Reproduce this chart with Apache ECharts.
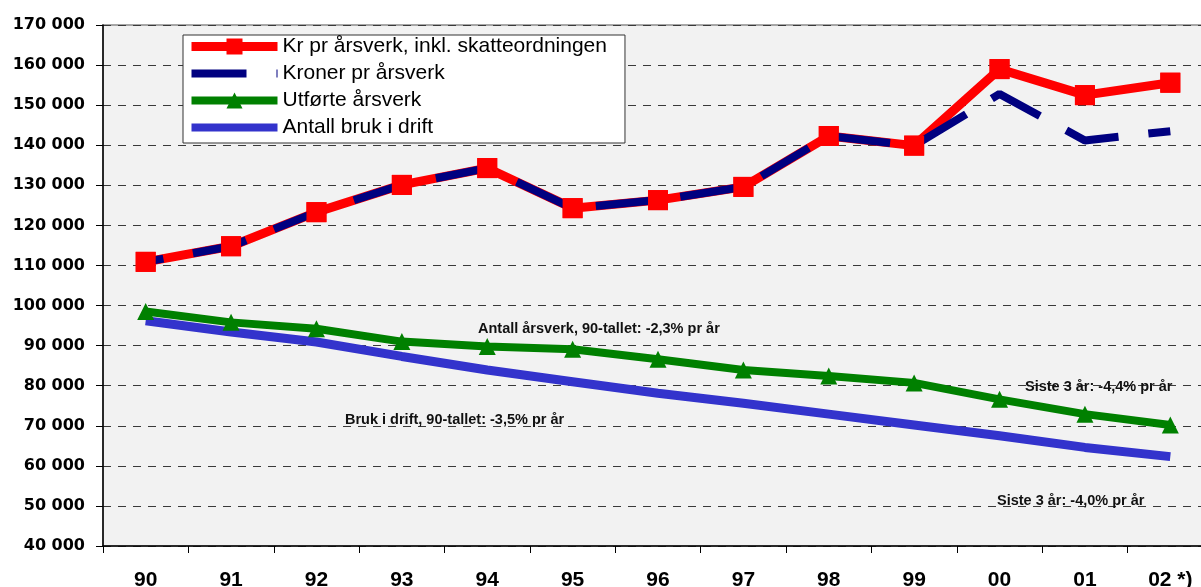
<!DOCTYPE html>
<html>
<head>
<meta charset="utf-8">
<script src="https://cdn.jsdelivr.net/npm/echarts@6/dist/echarts.min.js"></script>
<style>
html,body{margin:0;padding:0;background:#fff;overflow:hidden;}
#c{width:1213px;height:587px;}
</style>
</head>
<body>
<div id="c"></div>
<script>
const categories = ['90','91','92','93','94','95','96','97','98','99','00','01','02 *)'];
const krInklSkatt = [110900,114800,123300,130100,134300,124300,126300,129600,142300,139900,159000,152500,155600];
const kronerPrArsverk = [110900,114800,123300,130100,134300,124300,126300,129600,142300,139900,152800,141200,143500];
const utforteArsverk = [98500,95800,94200,91000,89800,89100,86600,83900,82400,80700,76600,72900,70200];
const antallBruk = [96200,93400,90900,87300,83900,81000,78100,75600,72900,70200,67500,64600,62300];
const seriesNames = ['Kr pr årsverk, inkl. skatteordningen','Kroner pr årsverk','Utførte årsverk','Antall bruk i drift'];
const yMin = 40000, yMax = 170000, yStep = 10000;
const notes = [
  {text:'Antall årsverk, 90-tallet: -2,3% pr år', x:478, y:330},
  {text:'Bruk i drift, 90-tallet: -3,5% pr år', x:345, y:421},
  {text:'Siste 3 år: -4,4% pr år', x:1025, y:388},
  {text:'Siste 3 år: -4,0% pr år', x:997, y:502}
];

const chart = echarts.init(document.getElementById('c'), null, {renderer:'canvas'});
const fmt = v => String(v).replace(/\B(?=(\d{3})+(?!\d))/g, ' ');
const option = {
  animation:false,
  backgroundColor:'#ffffff',
  grid:{left:103, top:25, right:0, height:521, outerBoundsMode:'none', containLabel:false,
        show:true, backgroundColor:'#f2f2f2', borderColor:'#8a8a8a', borderWidth:1.5},
  legend:{
    orient:'vertical', left:183, top:35,
    data:[
      {name:seriesNames[0], lineStyle:{width:9}},
      {name:seriesNames[1], itemStyle:{opacity:0}, lineStyle:{width:8, dashOffset:0}},
      {name:seriesNames[2], lineStyle:{width:8}},
      {name:seriesNames[3], itemStyle:{opacity:0}, lineStyle:{width:8}}
    ],
    itemWidth:86, itemHeight:20, itemGap:6,
    padding:[1,18,5,4],
    backgroundColor:'#ffffff', borderColor:'#333333', borderWidth:1,
    textStyle:{fontFamily:'Liberation Sans', fontSize:21, color:'#000'}
  },
  xAxis:{
    type:'category', data:categories, boundaryGap:true,
    axisLine:{lineStyle:{color:'#000', width:1.5}},
    axisTick:{show:true, length:7, interval:0, lineStyle:{color:'#000'}},
    axisLabel:{interval:0, margin:24, fontFamily:'Liberation Sans', fontWeight:'bold', fontSize:21, color:'#000'},
    splitLine:{show:false}
  },
  yAxis:{
    type:'value', min:yMin, max:yMax, interval:yStep,
    axisLine:{show:true, lineStyle:{color:'#000', width:1.5}},
    axisTick:{show:true, length:7, lineStyle:{color:'#000'}},
    axisLabel:{formatter:fmt, margin:18, fontFamily:'DejaVu Sans', fontWeight:'bold', fontSize:16, color:'#000'},
    splitLine:{show:true, lineStyle:{color:'#3a3a3a', width:1, type:[8,7]}}
  },
  series:[
    {name:seriesNames[3], type:'line', data:antallBruk, symbol:'none', z:2,
     lineStyle:{color:'#3333cc', width:9}, itemStyle:{color:'#3333cc'}},
    {name:seriesNames[2], type:'line', data:utforteArsverk, symbol:'triangle', symbolSize:17, z:2,
     lineStyle:{color:'#008000', width:8}, itemStyle:{color:'#008000'}},
    {name:seriesNames[0], type:'line', data:krInklSkatt, symbol:'rect', symbolSize:20, z:2,
     lineStyle:{color:'#ff0000', width:9}, itemStyle:{color:'#ff0000'}},
    {name:seriesNames[1], type:'line', data:kronerPrArsverk, symbol:'none', z:3,
     lineStyle:{color:'#000080', width:8, type:[55,30], dashOffset:37, cap:'butt'}, itemStyle:{color:'#000080'}},
    {name:'markers', type:'line', data:krInklSkatt, symbol:'rect', symbolSize:20, z:4, silent:true,
     lineStyle:{width:0, opacity:0}, itemStyle:{color:'#ff0000'}}
  ],
  graphic: notes.map(n => ({
    type:'text', left:n.x, top:n.y - 9, z:10,
    style:{text:n.text, fontFamily:'Liberation Sans', fontWeight:'bold', fontSize:14.5, fill:'#111'}
  }))
};
chart.setOption(option);
</script>
</body>
</html>
